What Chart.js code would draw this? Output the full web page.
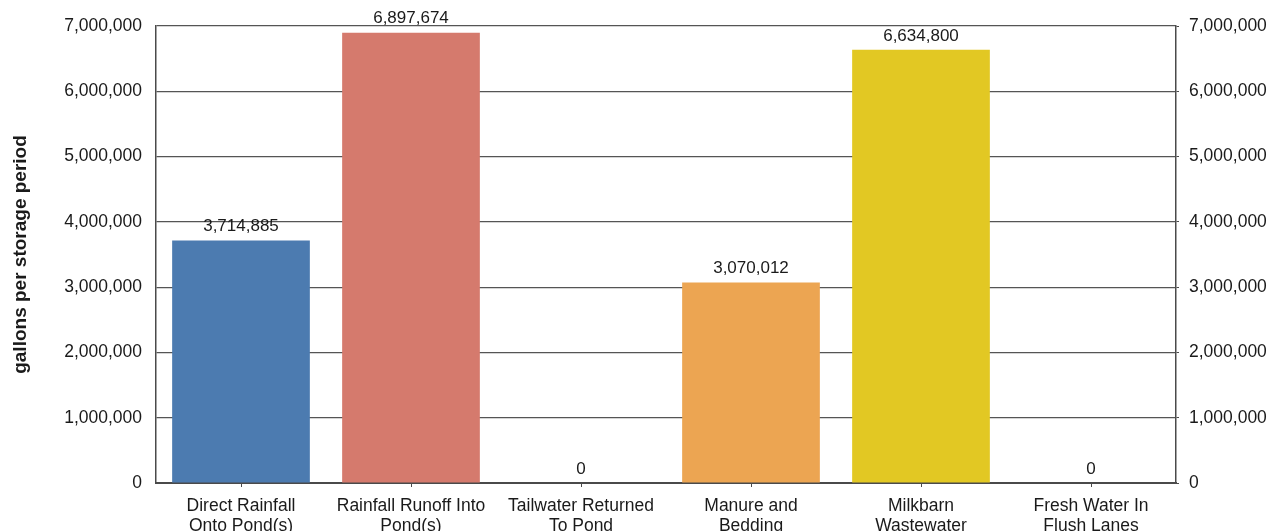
<!DOCTYPE html>
<html>
<head>
<meta charset="utf-8">
<script src="https://cdn.jsdelivr.net/npm/chart.js@4.4.1/dist/chart.umd.min.js"></script>
<style>
  html, body { margin: 0; padding: 0; background: #ffffff; }
  #wrap { width: 1270px; height: 531px; position: relative; }
</style>
</head>
<body>
<div id="wrap"><canvas id="chart"></canvas></div>
<script>
// Storage-period volume sources
const categories = [
  ['Direct Rainfall', 'Onto Pond(s)'],
  ['Rainfall Runoff Into', 'Pond(s)'],
  ['Tailwater Returned', 'To Pond'],
  ['Manure and', 'Bedding'],
  ['Milkbarn', 'Wastewater'],
  ['Fresh Water In', 'Flush Lanes']
];
const volumes = [3714885, 6897674, 0, 3070012, 6634800, 0];
const barColors = ['#4c7bb0', '#d57a6d', '#ffffff', '#eca552', '#e2c823', '#ffffff'];
const yTicks = [0, 1000000, 2000000, 3000000, 4000000, 5000000, 6000000, 7000000];
const yTitle = 'gallons per storage period';

const fmt = v => v.toLocaleString('en-US');
const FONT = '"Liberation Sans", Arial, sans-serif';
const INK = '#1a1a1a';
const LINE = '#4a4a4a';

// Writes each bar's value just above its top edge
const valueLabels = {
  id: 'valueLabels',
  afterDatasetsDraw(chart) {
    const ctx = chart.ctx;
    const meta = chart.getDatasetMeta(0);
    ctx.save();
    ctx.font = '17px ' + FONT;
    ctx.fillStyle = INK;
    ctx.textAlign = 'center';
    ctx.textBaseline = 'middle';
    meta.data.forEach((bar, i) => {
      ctx.fillText(fmt(volumes[i]), bar.x, bar.y - 14);
    });
    ctx.restore();
  }
};

const yAxisBase = {
  type: 'linear',
  min: 0,
  max: 7000000,
  afterBuildTicks(scale) { scale.ticks = yTicks.map(v => ({ value: v })); },
  border: { display: true, color: LINE, width: 1.5 },
  ticks: {
    color: INK,
    font: { family: FONT, size: 17.5 },
    callback: v => fmt(v)
  }
};

new Chart(document.getElementById('chart'), {
  type: 'bar',
  data: {
    labels: categories,
    datasets: [{
      data: volumes,
      backgroundColor: barColors,
      borderWidth: 0,
      categoryPercentage: 1.0,
      barPercentage: 0.81
    }]
  },
  options: {
    responsive: true,
    maintainAspectRatio: false,
    animation: false,
    devicePixelRatio: 1,
    layout: { padding: { top: 26, right: 0, bottom: 0, left: 0 } },
    plugins: { legend: { display: false }, tooltip: { enabled: false } },
    scales: {
      x: {
        type: 'category',
        offset: true,
        afterFit(scale) { scale.height = 48; },
        border: { display: true, color: LINE, width: 2 },
        grid: {
          offset: false,
          drawOnChartArea: false,
          drawTicks: true,
          tickLength: 4,
          color: LINE
        },
        ticks: {
          color: INK,
          padding: 9,
          maxRotation: 0,
          autoSkip: false,
          font: { family: FONT, size: 17.5, lineHeight: 1.15 }
        }
      },
      y: Object.assign({}, yAxisBase, {
        position: 'left',
        afterFit(scale) {
          scale.width = 156;
          scale.paddingTop = 0;
          scale.paddingBottom = 0;
        },
        grid: { color: '#555555', lineWidth: 1.2, drawTicks: false },
        ticks: Object.assign({}, yAxisBase.ticks, { padding: 14 }),
        title: {
          display: true,
          text: yTitle,
          color: INK,
          font: { family: FONT, size: 19, weight: 'bold' },
          padding: { top: 9, bottom: 0 }
        }
      }),
      y2: Object.assign({}, yAxisBase, {
        position: 'right',
        afterFit(scale) {
          scale.width = 94;
          scale.paddingTop = 0;
          scale.paddingBottom = 0;
        },
        grid: { drawOnChartArea: false, drawTicks: true, tickLength: 3, color: LINE },
        ticks: Object.assign({}, yAxisBase.ticks, { padding: 10 })
      })
    }
  },
  plugins: [valueLabels]
});
</script>
</body>
</html>
